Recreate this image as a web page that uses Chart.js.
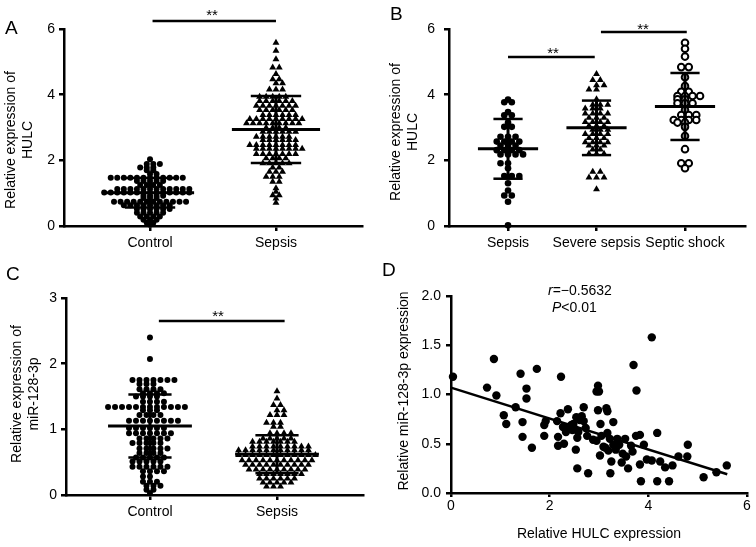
<!DOCTYPE html>
<html>
<head>
<meta charset="utf-8">
<script src="https://cdn.jsdelivr.net/npm/chart.js@4.4.1/dist/chart.umd.min.js"></script>
<style>
  body { margin: 0; background: #fff; }
  #fig { position: relative; width: 756px; height: 547px; font-family: "Liberation Sans", Arial, sans-serif; color: #000; }
  canvas { position: absolute; }
  .letter { position: absolute; font-size: 19px; line-height: 19px; }
  .ytitle { position: absolute; white-space: nowrap; font-size: 14px; line-height: 17px; text-align: center;
            transform: translate(-50%, -50%) rotate(-90deg); }
  .star { position: absolute; font-size: 15px; line-height: 15px; transform: translateX(-50%); }
  .txt { position: absolute; white-space: nowrap; font-size: 14px; line-height: 17px; }
</style>
</head>
<body>
<div id="fig">
  <canvas id="chartA" style="left:0;top:0" width="378" height="270"></canvas>
  <canvas id="chartB" style="left:378px;top:0" width="378" height="270"></canvas>
  <canvas id="chartC" style="left:0;top:270px" width="378" height="277"></canvas>
  <canvas id="chartD" style="left:378px;top:270px" width="378" height="277"></canvas>

  <div class="letter" style="left:5px;top:18px">A</div>
  <div class="letter" style="left:390px;top:4px">B</div>
  <div class="letter" style="left:6px;top:264px">C</div>
  <div class="letter" style="left:382px;top:260px">D</div>

  <div class="ytitle" style="left:19px;top:140px">Relative expression of<br>HULC</div>
  <div class="ytitle" style="left:404px;top:132px">Relative expression of<br>HULC</div>
  <div class="ytitle" style="left:25px;top:394px">Relative expression of<br>miR-128-3p</div>
  <div class="ytitle" style="left:403px;top:391px">Relative miR-128-3p expression</div>

  <div class="star" style="left:212px;top:7px">**</div>
  <div class="star" style="left:553px;top:45px">**</div>
  <div class="star" style="left:643px;top:21px">**</div>
  <div class="star" style="left:218px;top:308px">**</div>

  <div class="txt" style="left:548px;top:282px"><i>r</i>=−0.5632</div>
  <div class="txt" style="left:552px;top:299px"><i>P</i>&lt;0.01</div>
</div>

<script>
Chart.defaults.font.family = '"Liberation Sans", Arial, sans-serif';
Chart.defaults.font.size = 14;
Chart.defaults.color = '#000';

// ---- panel A: HULC, control vs sepsis
const catsA = ['Control', 'Sepsis'];
const controlA = [
  2.03,
  1.89, 1.89, 1.89,
  1.78, 1.78, 1.78,
  1.70, 1.70,
  1.58, 1.58,
  1.47, 1.47, 1.47, 1.47, 1.47, 1.47, 1.47, 1.47, 1.47, 1.47, 1.47, 1.47,
  1.37, 1.37, 1.37, 1.37, 1.37,
  1.25, 1.25, 1.25, 1.25,
  1.13, 1.13, 1.13, 1.13, 1.13, 1.13, 1.13, 1.13, 1.13, 1.13, 1.13, 1.13,
  1.02, 1.02, 1.02, 1.02, 1.02, 1.02, 1.02, 1.02, 1.02, 1.02, 1.02, 1.02, 1.02, 1.02,
  0.92, 0.92, 0.92, 0.92,
  0.85, 0.85, 0.85,
  0.74, 0.74, 0.74, 0.74, 0.74, 0.74, 0.74, 0.74, 0.74, 0.74, 0.74, 0.74,
  0.63, 0.63, 0.63, 0.63, 0.63, 0.63, 0.63, 0.63,
  0.52, 0.52, 0.52, 0.52, 0.52, 0.52,
  0.40, 0.40, 0.40, 0.40, 0.40,
  0.29, 0.29, 0.29, 0.29,
  0.19, 0.19, 0.19,
  0.10, 0.10,
  0.04
];
const sepsisA = [
  5.58, 5.34, 5.08,
  4.83, 4.83,
  4.63,
  4.47, 4.47,
  4.35, 4.35,
  4.16, 4.16, 4.16,
  3.94, 3.94, 3.94, 3.94, 3.94,
  3.81, 3.81, 3.81, 3.81, 3.81, 3.81,
  3.66, 3.66, 3.66, 3.66, 3.66, 3.66, 3.66,
  3.53, 3.53, 3.53, 3.53, 3.53, 3.53,
  3.38, 3.38, 3.38, 3.38, 3.38, 3.38,
  3.26, 3.26, 3.26, 3.26, 3.26, 3.26, 3.26, 3.26, 3.26,
  3.13, 3.13, 3.13, 3.13, 3.13, 3.13, 3.13, 3.13, 3.13,
  2.99, 2.99, 2.99, 2.99,
  2.87, 2.87, 2.87, 2.87, 2.87, 2.87,
  2.72, 2.72, 2.72, 2.72, 2.72, 2.72,
  2.62, 2.62, 2.62, 2.62, 2.62, 2.62,
  2.47, 2.47, 2.47, 2.47, 2.47, 2.47, 2.47, 2.47,
  2.35, 2.35, 2.35, 2.35, 2.35, 2.35, 2.35, 2.35,
  2.19, 2.19, 2.19, 2.19, 2.19, 2.19, 2.19,
  2.06, 2.06, 2.06, 2.06,
  1.91, 1.91, 1.91, 1.91, 1.91,
  1.78, 1.78,
  1.65, 1.65, 1.65,
  1.50, 1.50, 1.50,
  1.35, 1.35,
  1.15, 1.04,
  0.94, 0.94,
  0.84, 0.71
];
const meanA = [1.01, 2.94];
const sdA = [0.45, 1.02];
const sigA = [[0.02, 1.0, 6.24]];

// ---- panel B: HULC by severity
const catsB = ['Sepsis', 'Severe sepsis', 'Septic shock'];
const sepsisB = [
  3.85, 3.77, 3.77, 3.47, 3.37, 3.37, 3.15, 3.02, 3.02,
  2.72, 2.72, 2.72, 2.57, 2.57, 2.57, 2.57, 2.45, 2.45, 2.45,
  2.31, 2.31, 2.31, 2.31, 2.18, 2.18, 2.18, 2.18,
  1.91, 1.91, 1.76, 1.52, 1.52, 1.52, 1.30, 1.08, 0.93, 0.93, 0.74, 0.02
];
const severeB = [
  4.63, 4.45, 4.45, 4.29, 4.29, 4.16, 4.16, 3.86,
  3.69, 3.69, 3.69, 3.58, 3.58, 3.58, 3.43, 3.43, 3.43, 3.43,
  3.30, 3.30, 3.30, 3.17, 3.17, 3.17, 3.17, 3.05, 3.05, 3.05,
  2.93, 2.93, 2.93, 2.80, 2.80, 2.80, 2.80, 2.68, 2.68, 2.68,
  2.55, 2.55, 2.55, 2.55, 2.45, 2.45, 2.45, 2.33, 2.33,
  2.20, 2.20, 2.20, 1.65, 1.65, 1.48, 1.48, 1.48, 1.12
];
const shockB = [
  5.58, 5.40, 5.16, 4.84, 4.84, 4.53, 4.26, 4.09, 4.09,
  3.96, 3.96, 3.96, 3.96, 3.86, 3.86, 3.74, 3.74, 3.74, 3.53,
  3.38, 3.38, 3.38, 3.23, 3.23, 3.23, 3.23, 3.15, 3.15, 3.02,
  2.74, 2.34, 1.91, 1.91, 1.76
];
const meanB = [2.35, 2.99, 3.64];
const sdB = [0.91, 0.83, 1.02];
const sigB = [[0, 0.98, 5.15], [1.05, 2.02, 5.91]];

// ---- panel C: miR-128-3p, control vs sepsis
const catsC = ['Control', 'Sepsis'];
const controlC = [
  2.40, 2.07,
  1.75, 1.75, 1.75, 1.75, 1.75, 1.75, 1.75,
  1.69, 1.69, 1.69,
  1.61, 1.61, 1.61, 1.61,
  1.55, 1.55, 1.55, 1.55,
  1.50, 1.50, 1.50, 1.50,
  1.42, 1.42, 1.42, 1.42,
  1.34, 1.34, 1.34, 1.34, 1.34, 1.34, 1.34, 1.34, 1.34, 1.34, 1.34, 1.34,
  1.29, 1.29, 1.29,
  1.22, 1.22, 1.22, 1.22,
  1.13, 1.13, 1.13, 1.13, 1.13, 1.13, 1.13, 1.13,
  1.02, 1.02, 1.02, 1.02, 1.02, 1.02,
  0.94, 0.94, 0.94, 0.94, 0.94, 0.94, 0.94,
  0.86, 0.86, 0.86, 0.86, 0.86,
  0.79, 0.79, 0.79, 0.79, 0.79,
  0.71, 0.71, 0.71, 0.71, 0.71,
  0.64, 0.64, 0.64, 0.64,
  0.57, 0.57, 0.57, 0.57, 0.57,
  0.51, 0.51, 0.51, 0.51, 0.51,
  0.43, 0.43, 0.43, 0.43, 0.43, 0.43,
  0.36, 0.36, 0.36, 0.36,
  0.28, 0.28,
  0.20, 0.20, 0.20,
  0.14, 0.14, 0.14,
  0.08, 0.08,
  0.03
];
const sepsisC = [
  1.58, 1.47, 1.37, 1.37, 1.29, 1.29, 1.22, 1.22, 1.22,
  1.10, 1.10, 1.10, 1.04, 1.04,
  0.94, 0.94, 0.94, 0.94,
  0.86, 0.86, 0.86, 0.86, 0.86,
  0.81, 0.81, 0.81, 0.81, 0.81, 0.81, 0.81,
  0.74, 0.74, 0.74, 0.74, 0.74, 0.74, 0.74, 0.74, 0.74,
  0.68, 0.68, 0.68, 0.68, 0.68, 0.68, 0.68, 0.68, 0.68, 0.68, 0.68,
  0.61, 0.61, 0.61, 0.61, 0.61, 0.61, 0.61, 0.61, 0.61, 0.61, 0.61, 0.61,
  0.53, 0.53, 0.53, 0.53, 0.53, 0.53, 0.53, 0.53, 0.53, 0.53, 0.53,
  0.46, 0.46, 0.46, 0.46, 0.46, 0.46, 0.46, 0.46, 0.46, 0.46,
  0.39, 0.39, 0.39, 0.39, 0.39, 0.39, 0.39, 0.39, 0.39,
  0.32, 0.32, 0.32, 0.32, 0.32, 0.32, 0.32,
  0.25, 0.25, 0.25, 0.25, 0.25, 0.25,
  0.19, 0.19, 0.19, 0.19, 0.19,
  0.13, 0.13, 0.13
];
const meanC = [1.05, 0.62];
const sdC = [0.48, 0.29];
const sigC = [[0.07, 1.06, 2.65]];

// ---- panel D: correlation
const hulcD = [
  0.04, 0.73, 0.87, 0.92, 1.07, 1.12, 1.31, 1.41, 1.45, 1.53,
  1.53, 1.45, 1.64, 1.74, 1.89, 1.92, 1.89, 2.15, 2.22, 2.23,
  2.17, 2.17, 2.27, 2.29, 2.37, 2.39, 2.44, 2.46, 2.51, 2.53,
  2.56, 2.54, 2.56, 2.61, 2.65, 2.69, 2.69, 2.73, 2.76, 2.78,
  2.88, 2.95, 2.98, 2.95, 2.98, 3.00, 3.03, 3.02, 3.05, 3.09,
  3.15, 3.17, 3.17, 3.13, 3.19, 3.22, 3.23, 3.25, 3.29, 3.29,
  3.34, 3.37, 3.41, 3.46, 3.48, 3.53, 3.55, 3.59, 3.65, 3.68,
  3.70, 3.75, 3.76, 3.83, 3.83, 3.85, 3.91, 3.97, 4.07, 4.07,
  4.18, 4.18, 4.24, 4.34, 4.42, 4.49, 4.61, 4.80, 4.79, 5.12,
  5.38, 5.59, 2.33, 2.48, 2.58
];
const mirD = [
  1.18, 1.07, 1.36, 0.99, 0.79, 0.70, 0.87, 1.21, 0.72, 1.06,
  0.96, 0.57, 0.46, 1.26, 0.69, 0.73, 0.58, 0.73, 0.81, 1.18,
  0.57, 0.48, 0.67, 0.50, 0.85, 0.67, 0.69, 0.64, 0.65, 0.44,
  0.25, 0.77, 0.56, 0.74, 0.78, 0.87, 0.73, 0.66, 0.58, 0.20,
  0.54, 0.53, 0.84, 1.03, 1.09, 1.03, 0.70, 0.38, 0.58, 0.47,
  0.86, 0.83, 0.61, 0.46, 0.43, 0.55, 0.20, 0.32, 0.72, 0.49,
  0.44, 0.55, 0.49, 0.31, 0.40, 0.55, 0.37, 0.25, 0.48, 0.42,
  1.30, 0.58, 1.04, 0.59, 0.29, 0.12, 0.49, 0.34, 1.58, 0.33,
  0.61, 0.12, 0.32, 0.26, 0.12, 0.28, 0.37, 0.49, 0.37, 0.16,
  0.21, 0.28, 0.62, 0.70, 0.62
];
const fitX = [0, 5.6];
const fitY = [1.07, 0.19];

const black = '#000';

// spread equal values sideways like a Prism scatter dot plot
function swarm(values, center, step) {
  const rows = new Map();
  values.forEach(v => {
    if (!rows.has(v)) rows.set(v, []);
    rows.get(v).push(v);
  });
  const pts = [];
  let prevParity = -1, flip = 1;
  [...rows.keys()].sort((a, b) => b - a).forEach(v => {
    const n = rows.get(v).length;
    let shift = 0;
    if (n % 2 === prevParity && n > 1) { shift = flip * step / 2; flip = -flip; }
    prevParity = n % 2;
    for (let i = 0; i < n; i++) pts.push({x: center + (i - (n - 1) / 2) * step + shift, y: v});
  });
  return pts;
}

function seg(x1, y1, x2, y2, w) {
  return {
    data: [{x: x1, y: y1}, {x: x2, y: y2}],
    showLine: true, pointRadius: 0, borderColor: black, borderWidth: w,
    clip: false, order: 0
  };
}

function errorBars(means, sds, half, cap) {
  const out = [];
  means.forEach((m, i) => {
    const s = sds[i];
    out.push(seg(i - half, m, i + half, m, 3));
    out.push(seg(i, m - s, i, m + s, 3));
    out.push(seg(i - cap, m + s, i + cap, m + s, 2.5));
    out.push(seg(i - cap, m - s, i + cap, m - s, 2.5));
  });
  return out;
}

function axisStyle(tickLen) {
  return {
    grid: { drawOnChartArea: false, drawTicks: true, tickLength: tickLen, lineWidth: 2.5, color: black },
    border: { display: true, width: 2.5, color: black }
  };
}

function dotChart(id, c) {
  const groups = c.groups.map((g, i) => ({
    data: swarm(g.values, i, c.step),
    pointStyle: g.style, pointRadius: g.radius,
    backgroundColor: g.fill, borderColor: black, borderWidth: g.border,
    clip: false, order: 1
  }));
  const sig = c.sig.map(s => seg(s[0], s[2], s[1], s[2], 2.5));
  return new Chart(document.getElementById(id), {
    type: 'scatter',
    data: { datasets: [...errorBars(c.means, c.sds, c.half, c.cap), ...sig, ...groups] },
    options: {
      responsive: false, animation: false, events: [],
      layout: { padding: { top: c.top, right: c.right, left: 0, bottom: 0 } },
      plugins: { legend: { display: false }, tooltip: { enabled: false } },
      scales: {
        x: {
          type: 'linear', min: c.xMin, max: c.xMax,
          afterBuildTicks: s => { s.ticks = c.cats.map((_, i) => ({value: i})); },
          afterFit: s => { s.height = c.xH; },
          ticks: { callback: v => c.cats[v], padding: 4, maxRotation: 0, autoSkip: false },
          ...axisStyle(5)
        },
        y: {
          min: 0, max: c.yMax,
          afterFit: s => { s.width = c.yW; },
          ticks: { stepSize: c.yStep, padding: c.yPad },
          ...axisStyle(5)
        }
      }
    }
  });
}

dotChart('chartA', {
  cats: catsA, means: meanA, sds: sdA, sig: sigA,
  groups: [
    { values: controlA, style: 'circle', radius: 3, fill: black, border: 0 },
    { values: sepsisA, style: 'triangle', radius: 4, fill: black, border: 0 }
  ],
  step: 0.052, half: 0.35, cap: 0.2,
  xMin: -0.683, xMax: 1.683, yMax: 6, yStep: 2,
  top: 29, right: 16, xH: 44, yW: 64, yPad: 4
});

dotChart('chartB', {
  cats: catsB, means: meanB, sds: sdB, sig: sigB,
  groups: [
    { values: sepsisB, style: 'circle', radius: 3.3, fill: black, border: 0 },
    { values: severeB, style: 'triangle', radius: 4, fill: black, border: 0 },
    { values: shockB, style: 'circle', radius: 3.3, fill: '#fff', border: 2 }
  ],
  step: 0.085, half: 0.34, cap: 0.165,
  xMin: -0.667, xMax: 2.678, yMax: 6, yStep: 2,
  top: 29, right: 11, xH: 44, yW: 71, yPad: 9
});

dotChart('chartC', {
  cats: catsC, means: meanC, sds: sdC, sig: sigC,
  groups: [
    { values: controlC, style: 'circle', radius: 3, fill: black, border: 0 },
    { values: sepsisC, style: 'triangle', radius: 4, fill: black, border: 0 }
  ],
  step: 0.055, half: 0.33, cap: 0.17,
  xMin: -0.661, xMax: 1.677, yMax: 3, yStep: 1,
  top: 28, right: 15, xH: 52, yW: 66, yPad: 4
});

new Chart(document.getElementById('chartD'), {
  type: 'scatter',
  data: {
    datasets: [
      {
        data: fitX.map((x, i) => ({x, y: fitY[i]})),
        showLine: true, pointRadius: 0, borderColor: black, borderWidth: 2.5, clip: false, order: 0
      },
      {
        data: hulcD.map((x, i) => ({x, y: mirD[i]})),
        pointRadius: 4.2, backgroundColor: black, borderWidth: 0, clip: false, order: 1
      }
    ]
  },
  options: {
    responsive: false, animation: false, events: [],
    layout: { padding: { top: 26, right: 9, left: 0, bottom: 0 } },
    plugins: { legend: { display: false }, tooltip: { enabled: false } },
    scales: {
      x: {
        type: 'linear', min: 0, max: 6,
        afterFit: s => { s.height = 54; },
        ticks: { stepSize: 2, padding: 1 },
        title: { display: true, text: 'Relative HULC expression', padding: { top: 0, bottom: 4 } },
        ...axisStyle(4)
      },
      y: {
        min: 0, max: 2,
        afterFit: s => { s.width = 73; },
        ticks: { stepSize: 0.5, padding: 5, callback: v => v.toFixed(1) },
        ...axisStyle(5)
      }
    }
  }
});
</script>
</body>
</html>
